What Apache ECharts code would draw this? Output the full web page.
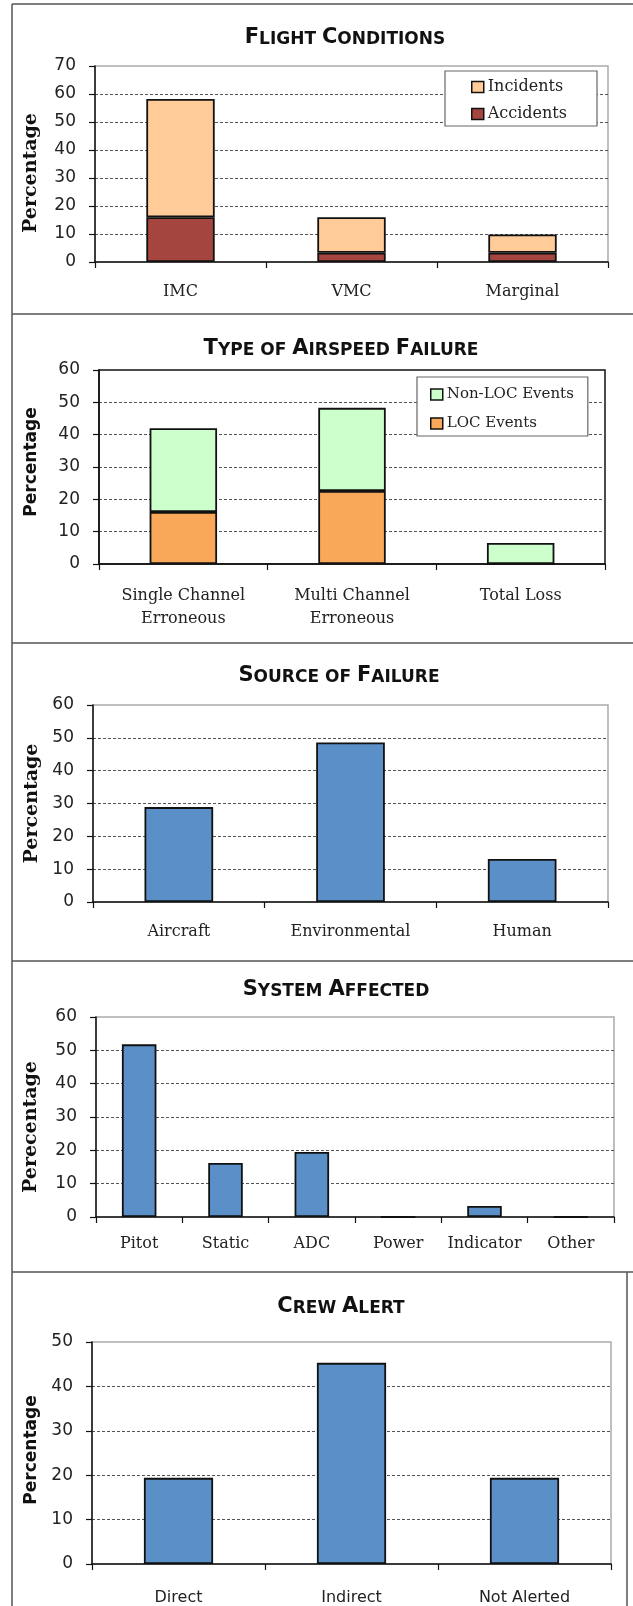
<!DOCTYPE html>
<html>
<head>
<meta charset="utf-8">
<script src="https://cdn.jsdelivr.net/npm/echarts@6/dist/echarts.min.js"></script>
<style>
html,body{margin:0;padding:0;background:#fff;}
#c{width:633px;height:1606px;}
</style>
</head>
<body>
<div id="c"></div>
<script>
// ---------- data ----------
const flightCats = ['IMC', 'VMC', 'Marginal'];
const flightAccidents = [16, 3.3, 3.3];
const flightIncidents = [42.2, 12.7, 6.5];

const airspeedCats = ['Single Channel\nErroneous', 'Multi Channel\nErroneous', 'Total Loss'];
const locEvents = [16.1, 22.6, 0];
const nonLocEvents = [25.9, 25.7, 6.5];

const sourceCats = ['Aircraft', 'Environmental', 'Human'];
const sourceVals = [28.9, 48.6, 13.1];

const systemCats = ['Pitot', 'Static', 'ADC', 'Power', 'Indicator', 'Other'];
const systemVals = [51.8, 16.2, 19.5, 0, 3.3, 0];

const crewCats = ['Direct', 'Indirect', 'Not Alerted'];
const crewVals = [19.4, 45.3, 19.4];

const yMax = [70, 60, 60, 60, 50];

// ---------- styles ----------
const SERIF = 'DejaVu Serif';
const SANS = 'DejaVu Sans';
const BLUE = '#5B8FC8';
const barBorder = { borderColor: '#111', borderWidth: 1.8 };

const grids = [
  { left: 95, top: 66, width: 513, height: 196, border: '#aaa' },
  { left: 99, top: 370, width: 506, height: 194, border: '#111' },
  { left: 93, top: 705, width: 515, height: 197, border: '#aaa' },
  { left: 96, top: 1017, width: 518, height: 200, border: '#aaa' },
  { left: 92, top: 1342, width: 519, height: 222, border: '#aaa' }
];
const xCats = [flightCats, airspeedCats, sourceCats, systemCats, crewCats];
const xLabelFont = [SERIF, SERIF, SERIF, SERIF, SANS];
const xLabelMargin = [22, 20, 22, 19, 26];
const xLabelLineHeight = [16, 23, 16, 16, 16];
const yNames = ['Percentage', 'Percentage', 'Percentage', 'Perecentage', 'Percentage'];
const yNameFont = [SERIF, SANS, SERIF, SERIF, SANS];
const yNameSize = [19, 17, 19, 19, 17];
const yNameGap = [54, 59, 51, 55, 52];
const yNamePad = [[0, 18, 0, 0], [0, 0, 0, 10], [0, 0, 0, 0], [0, 20, 0, 0], [0, 0, 0, 6]];

function titleText(parts) {
  return parts.map(p => '{a|' + p[0] + '}{b|' + p[1] + '}').join('');
}
const titleRich = {
  a: { fontFamily: SANS, fontWeight: 'bold', fontSize: 21, lineHeight: 24, verticalAlign: 'bottom', fill: '#111' },
  b: { fontFamily: SANS, fontWeight: 'bold', fontSize: 17, lineHeight: 24, verticalAlign: 'bottom', fill: '#111' }
};
const titles = [
  { x: 345, y: 36, parts: [['F', 'LIGHT '], ['C', 'ONDITIONS']] },
  { x: 341, y: 347, parts: [['T', 'YPE OF '], ['A', 'IRSPEED '], ['F', 'AILURE']] },
  { x: 339, y: 674, parts: [['S', 'OURCE OF '], ['F', 'AILURE']] },
  { x: 336, y: 988, parts: [['S', 'YSTEM '], ['A', 'FFECTED']] },
  { x: 341, y: 1305, parts: [['C', 'REW '], ['A', 'LERT']] }
];

const chart = echarts.init(document.getElementById('c'), null, { renderer: 'canvas' });

const gridOpts = grids.map(g => ({
  left: g.left, top: g.top, width: g.width, height: g.height,
  show: true, borderColor: g.border, borderWidth: 1.5, backgroundColor: 'transparent'
}));

const xAxes = xCats.map((cats, i) => ({
  type: 'category', gridIndex: i, data: cats,
  axisLine: { lineStyle: { color: '#111', width: 1.5 } },
  axisTick: { show: true, alignWithLabel: false, length: 6, lineStyle: { color: '#111', width: 1.2 } },
  axisLabel: { interval: 0, margin: xLabelMargin[i], fontFamily: xLabelFont[i], fontSize: 16, color: '#222', lineHeight: xLabelLineHeight[i] },
  splitLine: { show: false }
}));

const yAxes = yMax.map((mx, i) => ({
  type: 'value', gridIndex: i, min: 0, max: mx, interval: 10,
  name: yNames[i], nameLocation: 'middle', nameGap: yNameGap[i],
  nameTextStyle: { fontFamily: yNameFont[i], fontWeight: 'bold', fontSize: yNameSize[i], color: '#111', padding: yNamePad[i] },
  axisLine: { show: true, lineStyle: { color: '#111', width: 1.5 } },
  axisTick: { show: true, length: 6, lineStyle: { color: '#111', width: 1.2 } },
  axisLabel: { margin: 19, fontFamily: SANS, fontSize: 17, color: '#222' },
  splitLine: { show: true, showMinLine: false, showMaxLine: false, lineStyle: { color: '#555', width: 1, type: [3, 2] } }
}));

const series = [
  { name: 'Accidents', type: 'bar', xAxisIndex: 0, yAxisIndex: 0, stack: 'f', barWidth: '40%', data: flightAccidents, itemStyle: Object.assign({ color: '#A4463F' }, barBorder) },
  { name: 'Incidents', type: 'bar', xAxisIndex: 0, yAxisIndex: 0, stack: 'f', barWidth: '40%', data: flightIncidents, itemStyle: Object.assign({ color: '#FFCC99' }, barBorder) },
  { name: 'LOC Events', type: 'bar', xAxisIndex: 1, yAxisIndex: 1, stack: 'a', barWidth: '40%', data: locEvents, itemStyle: Object.assign({ color: '#F8A858' }, barBorder) },
  { name: 'Non-LOC Events', type: 'bar', xAxisIndex: 1, yAxisIndex: 1, stack: 'a', barWidth: '40%', data: nonLocEvents, itemStyle: Object.assign({ color: '#CCFFCC' }, barBorder) },
  { name: 'Source', type: 'bar', xAxisIndex: 2, yAxisIndex: 2, barWidth: '40%', data: sourceVals, itemStyle: Object.assign({ color: BLUE }, barBorder) },
  { name: 'System', type: 'bar', xAxisIndex: 3, yAxisIndex: 3, barWidth: '40%', data: systemVals, itemStyle: Object.assign({ color: BLUE }, barBorder) },
  { name: 'Crew', type: 'bar', xAxisIndex: 4, yAxisIndex: 4, barWidth: '40%', data: crewVals, itemStyle: Object.assign({ color: BLUE }, barBorder) }
];

const legendCommon = {
  orient: 'vertical', icon: 'rect', itemWidth: 12, itemHeight: 11,
  backgroundColor: '#fff', borderColor: '#666', borderWidth: 1.2, borderRadius: 0,
  itemStyle: { borderColor: '#111', borderWidth: 1.5 },
  textStyle: { fontFamily: SERIF, fontSize: 16, color: '#222', padding: [0, 0, 0, -1] },
  selectedMode: false
};
const legends = [
  Object.assign({}, legendCommon, { left: 445, top: 71, data: ['Incidents', 'Accidents'], itemGap: 11, padding: [8, 30, 4, 26] }),
  Object.assign({}, legendCommon, { left: 417, top: 377, data: ['Non-LOC Events', 'LOC Events'], itemGap: 14, padding: [10, 14, 5, 13], textStyle: Object.assign({}, legendCommon.textStyle, { fontSize: 15 }) })
];

const frameColor = '#555';
function hline(y, x1, x2) {
  return { type: 'line', silent: true, shape: { x1: x1, y1: y, x2: x2, y2: y }, style: { stroke: frameColor, lineWidth: 1.5 } };
}
function vline(x, y1, y2) {
  return { type: 'line', silent: true, shape: { x1: x, y1: y1, x2: x, y2: y2 }, style: { stroke: frameColor, lineWidth: 1.5 } };
}
const graphics = [
  vline(12, 4, 1606),
  hline(4, 12, 633),
  hline(314, 12, 633),
  hline(643, 12, 633),
  hline(961, 12, 633),
  hline(1272, 12, 633),
  vline(627, 1272, 1606)
].concat(titles.map(t => ({
  type: 'text', silent: true, x: t.x, y: t.y,
  style: { text: titleText(t.parts), rich: titleRich, align: 'center', verticalAlign: 'middle', fill: '#111' }
})));

chart.setOption({
  animation: false,
  backgroundColor: '#fff',
  grid: gridOpts,
  xAxis: xAxes,
  yAxis: yAxes,
  legend: legends,
  series: series,
  graphic: graphics
});
</script>
</body>
</html>
